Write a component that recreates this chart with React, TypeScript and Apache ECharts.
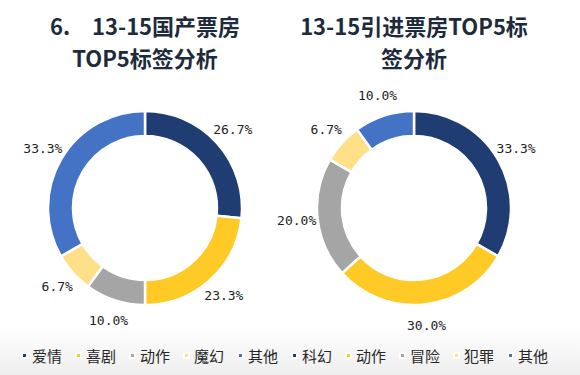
import React, { useEffect, useRef } from "react";
import * as echarts from "echarts";

const leftNames = ["爱情", "喜剧", "动作", "魔幻", "其他"];
const leftValues = [26.7, 23.3, 10.0, 6.7, 33.3];
const rightNames = ["科幻", "动作", "冒险", "犯罪", "其他"];
const rightValues = [33.3, 30.0, 20.0, 6.7, 10.0];
const sliceColors = ["#1F3C73", "#FFC926", "#A5A5A5", "#FFDF88", "#4472C4"];
const leftTitle = "6.\u200313-15国产票房\nTOP5标签分析";
const rightTitle = "13-15引进票房TOP5标\n签分析";

const CJK = '"Noto Sans CJK SC", "Noto Sans", sans-serif';

function ringSeries(names: string[], values: number[], cx: number, cy: number) {
  const data = names.map((n, i) => ({ name: n, value: values[i], itemStyle: { color: sliceColors[i] } }));
  return [
    {
      type: "pie",
      center: [cx, cy],
      radius: [72, 97],
      startAngle: 90,
      clockwise: true,
      avoidLabelOverlap: false,
      label: { show: false },
      labelLine: { show: false },
      itemStyle: { borderColor: "#ffffff", borderWidth: 2.5 },
      emphasis: { disabled: true },
      silent: true,
      data,
    },
    {
      type: "pie",
      center: [cx, cy],
      radius: [97, 133],
      startAngle: 90,
      clockwise: true,
      avoidLabelOverlap: false,
      silent: true,
      emphasis: { disabled: true },
      itemStyle: { color: "transparent", borderWidth: 0 },
      labelLine: { show: false },
      label: {
        show: true,
        position: "inside",
        color: "#222222",
        fontSize: 13,
        fontFamily: '"DejaVu Sans Mono", monospace',
        formatter: (p: any) => Number(p.value).toFixed(1) + "%",
      },
      data: names.map((n, i) => ({ name: n, value: values[i] })),
    },
  ];
}

function legendFor(names: string[], left: number) {
  return {
    left,
    top: 348,
    padding: 0,
    orient: "horizontal",
    icon: "rect",
    itemWidth: 5,
    itemHeight: 5,
    itemGap: 13,
    selectedMode: false,
    textStyle: { fontSize: 15, color: "#262626", fontFamily: CJK, padding: [0, 0, 0, 0] },
    data: names.map((n, i) => ({ name: n, itemStyle: { color: sliceColors[i] } })),
  };
}

export default function App() {
  const ref = useRef<HTMLDivElement>(null);
  useEffect(() => {
    if (!ref.current) return;
    const chart = echarts.init(ref.current, null, { renderer: "svg" });
    chart.setOption({
      animation: false,
      graphic: [
        {
          type: "text",
          x: 145,
          y: 9,
          style: {
            text: leftTitle,
            align: "center",
            verticalAlign: "top",
            font: `bold 22px ${CJK}`,
            lineHeight: 32,
            fill: "#1E2B3C",
          },
        },
        {
          type: "text",
          x: 414,
          y: 9,
          style: {
            text: rightTitle,
            align: "center",
            verticalAlign: "top",
            font: `bold 22px ${CJK}`,
            lineHeight: 32,
            fill: "#1E2B3C",
          },
        },
      ],
      legend: [legendFor(leftNames, 21), legendFor(rightNames, 291)],
      series: [
        ...ringSeries(leftNames, leftValues, 145, 208),
        ...ringSeries(rightNames, rightValues, 414, 208),
      ],
    });
    return () => chart.dispose();
  }, []);
  return (
    <div
      style={{
        position: "fixed",
        left: 0,
        top: 0,
        width: 580,
        height: 375,
        background: "linear-gradient(to bottom, #ffffff 0%, #ffffff 87%, #eeeeee 100%)",
      }}
    >
      <div ref={ref} style={{ width: 580, height: 375 }} />
    </div>
  );
}
